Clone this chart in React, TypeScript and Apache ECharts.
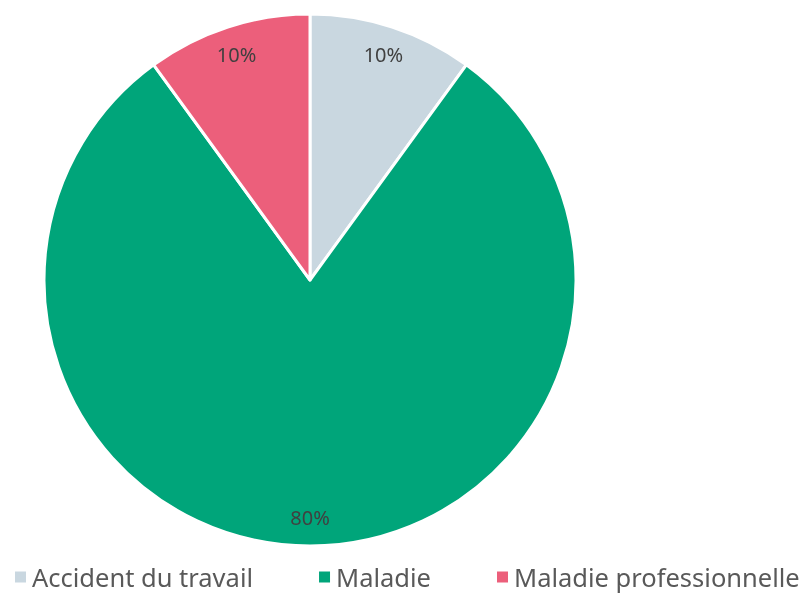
import React, { useEffect, useRef } from "react";
import * as echarts from "echarts";

const categories = ["Accident du travail", "Maladie", "Maladie professionnelle"];
const values = [10, 80, 10];
const colors = ["#C9D7E0", "#00A57A", "#EC5F7B"];

export default function App() {
  const ref = useRef<HTMLDivElement>(null);
  useEffect(() => {
    if (!ref.current) return;
    const chart = echarts.init(ref.current, null, { renderer: "svg" });
    const data = categories.map((name, i) => ({ name, value: values[i], itemStyle: { color: colors[i] } }));
    chart.setOption({
      animation: false,
      legend: {
        bottom: 0,
        left: 8,
        itemWidth: 13,
        itemHeight: 13,
        itemGap: 64,
        icon: "rect",
        textStyle: { fontFamily: "Noto Sans", fontSize: 25.5, color: "#595959" },
        data: categories,
      },
      series: [
        {
          type: "pie",
          center: [310, 280],
          radius: [0, 266],
          startAngle: 90,
          clockwise: true,
          data,
          label: { show: false },
          labelLine: { show: false },
          itemStyle: { borderColor: "#ffffff", borderWidth: 3 },
          silent: true,
        },
        {
          type: "pie",
          center: [310, 280],
          radius: [203, 266],
          startAngle: 90,
          clockwise: true,
          data: categories.map((name, i) => ({ name, value: values[i], itemStyle: { color: "transparent" } })),
          label: {
            show: true,
            position: "inside",
            formatter: "{d}%",
            fontFamily: "Noto Sans",
            fontSize: 20,
            color: "#404040",
          },
          labelLine: { show: false },
          legendHoverLink: false,
          silent: true,
        },
      ],
    });
    return () => chart.dispose();
  }, []);
  return <div ref={ref} style={{ position: "fixed", left: 0, top: 0, width: 805, height: 595 }} />;
}
